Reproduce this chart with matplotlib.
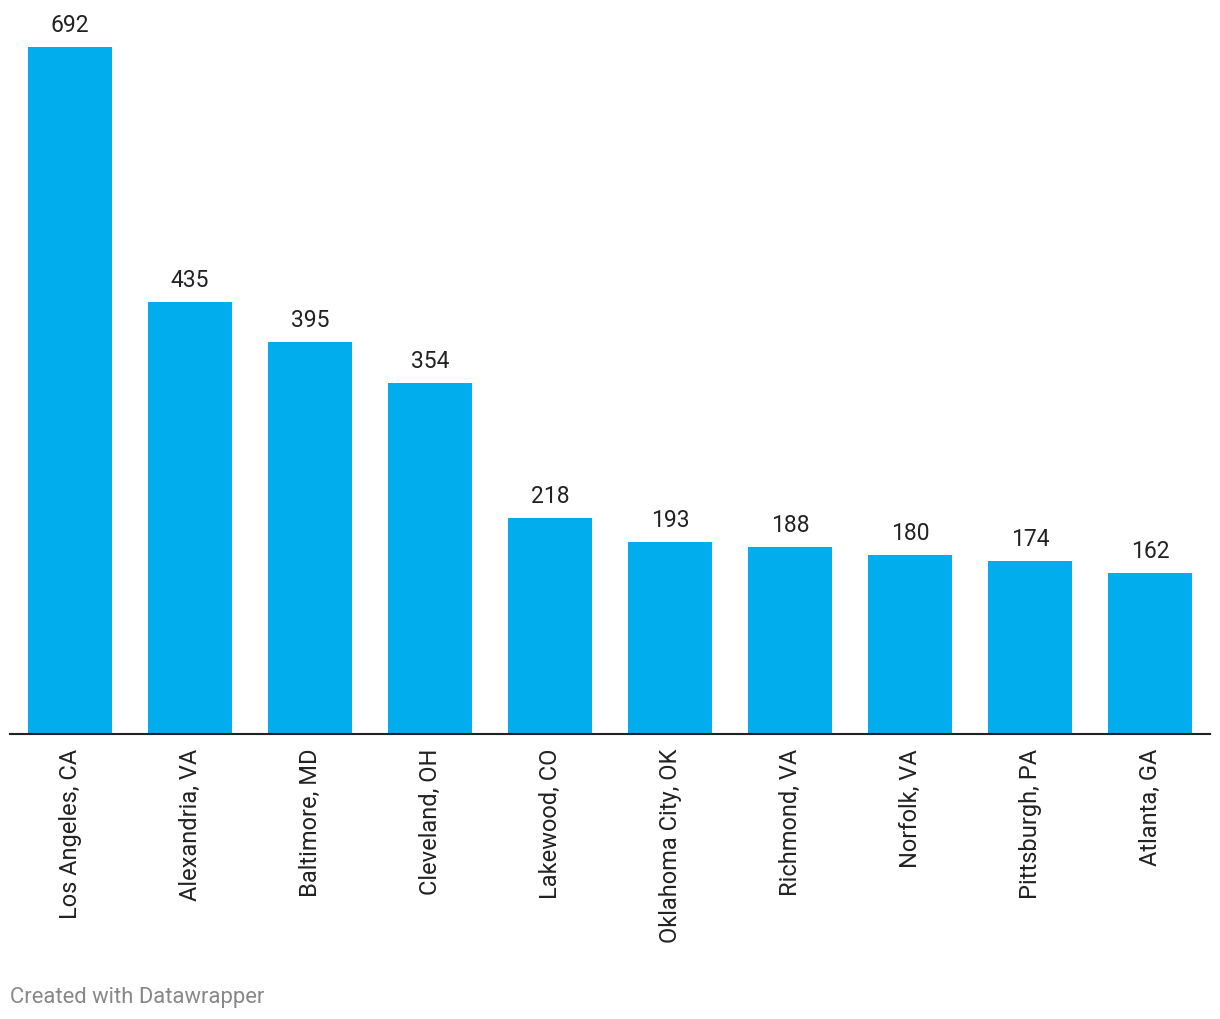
import matplotlib
matplotlib.use('Agg')
import matplotlib.pyplot as plt

cities = ['Los Angeles, CA', 'Alexandria, VA', 'Baltimore, MD', 'Cleveland, OH',
          'Lakewood, CO', 'Oklahoma City, OK', 'Richmond, VA', 'Norfolk, VA',
          'Pittsburgh, PA', 'Atlanta, GA']
values = [692, 435, 395, 354, 218, 193, 188, 180, 174, 162]

plt.rcParams['font.family'] = ['Roboto', 'DejaVu Sans']

fig = plt.figure(figsize=(12.2, 10.2), dpi=100)
# axes in pixel terms: left 10, right 1210, bottom at y=735, top at y=48
ax = fig.add_axes([10 / 1220, (1020 - 735) / 1020, 1200 / 1220, (735 - 48) / 1020])

x = range(len(cities))
ax.bar(x, values, width=0.7, color='#01aded', zorder=2)
ax.set_xlim(-0.5, len(cities) - 0.5)
ax.set_ylim(0, max(values))

for i, v in zip(x, values):
    ax.annotate(str(v), (i, v), xytext=(0, 11), textcoords='offset pixels',
                ha='center', va='bottom', fontsize=16.5, color='#222222')

ax.set_xticks(list(x))
ax.set_xticklabels(cities, rotation=90, fontsize=17, color='#222222', va='top')
ax.tick_params(axis='x', length=0, pad=10)
ax.set_yticks([])

for s in ['top', 'right', 'left']:
    ax.spines[s].set_visible(False)
ax.spines['bottom'].set_linewidth(1.5)
ax.spines['bottom'].set_color('#222222')
ax.spines['bottom'].set_zorder(3)

fig.text(10 / 1220, 1 - 998 / 1020, 'Created with Datawrapper', fontsize=15.8,
         color='#888888', ha='left', va='center')

fig.savefig('out.png', dpi=100, facecolor='white')
